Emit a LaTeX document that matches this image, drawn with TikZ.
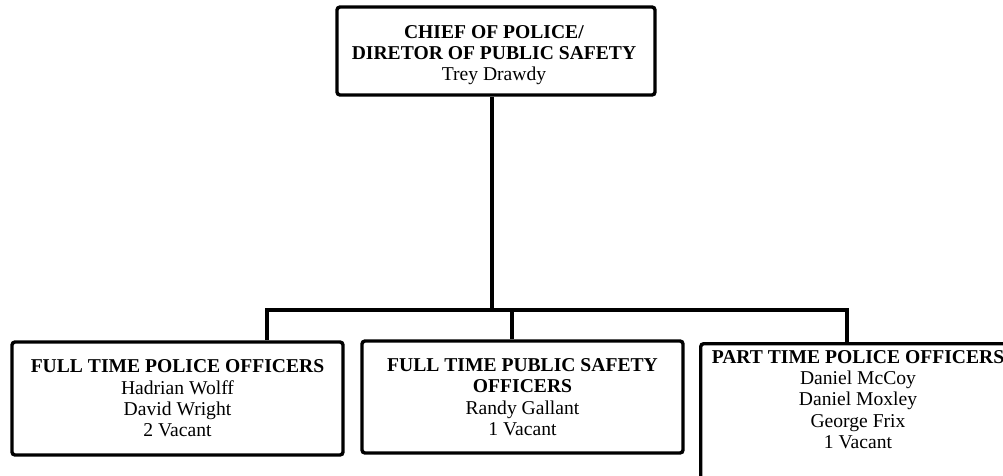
\documentclass[tikz,border=0pt]{standalone}
\usepackage{fontspec}
\setmainfont{Liberation Serif}
\begin{document}
\begin{tikzpicture}[x=1pt,y=1pt,
  box/.style={draw=black, line width=3.4pt, rounded corners=3pt, inner sep=0pt},
  txt/.style={align=center, font=\fontsize{19.6}{21.3}\selectfont},
  link/.style={draw=black, line width=3.4pt}]
\useasboundingbox (0,0) rectangle (1003,-475);
% top box
\node[box, minimum width=318pt, minimum height=88pt] (chief) at (496,-51) {};
\node[txt, inner sep=0pt, anchor=north] (chieftext) at (494,-25)
  {\textbf{CHIEF OF POLICE/}\\\textbf{DIRETOR OF PUBLIC SAFETY}\\Trey Drawdy};
% bottom boxes
\node[box, minimum width=331pt, minimum height=113pt, txt] (ftpo) at (177.5,-398.5)
  {\textbf{FULL TIME POLICE OFFICERS}\\Hadrian Wolff\\David Wright\\2 Vacant};
\node[box, minimum width=321pt, minimum height=112pt, txt] (ftps) at (522.5,-397)
  {\textbf{FULL TIME PUBLIC SAFETY}\\\textbf{OFFICERS}\\Randy Gallant\\1 Vacant};
\node[box, minimum width=322pt, minimum height=160pt, anchor=north west] (ptbox) at (699,-342) {};
\node[txt, inner sep=0pt, anchor=north] (pttext) at (858,-350)
  {\textbf{PART TIME POLICE OFFICERS}\\Daniel McCoy\\Daniel Moxley\\George Frix\\1 Vacant};
% connectors
\coordinate (jt) at (492,-310);
\coordinate (jl) at (267,-310);
\coordinate (jm) at (512,-310);
\coordinate (jr) at (847,-310);
\draw[link] (jt |- chief.south) -- (jt);
\draw[link] (jl |- ftpo.north) -- (jl) -- (jr) -- (jr |- ptbox.north);
\draw[link] (jm) -- (jm |- ftps.north);
\end{tikzpicture}
\end{document}
